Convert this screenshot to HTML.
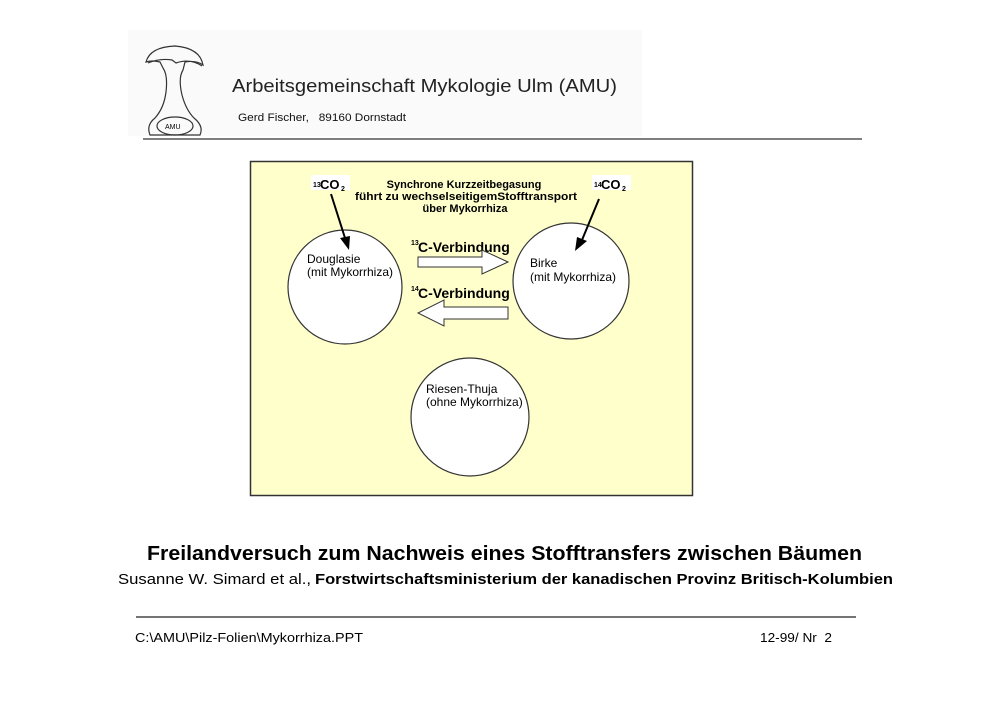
<!DOCTYPE html>
<html><head><meta charset="utf-8"><style>
html,body{margin:0;padding:0;background:#fff}
svg{display:block}
text{font-family:"Liberation Sans",sans-serif}
</style></head><body>
<svg width="1000" height="707" viewBox="0 0 1000 707" xmlns="http://www.w3.org/2000/svg">
<rect x="128" y="30" width="514" height="106" fill="#fafafa"/>
<!-- mushroom logo -->
<g fill="none" stroke="#333" stroke-width="1.2">
<path d="M146,62 Q150,47 175,46 Q200,48 203,65 Q196,60 185,62 L183,70 Q178,78 182,95 Q186,110 194,118 Q204,126 200,135 L150,135 Q146,125 155,118 Q164,108 166,92 Q168,75 163,68 L160,62 Q152,60 146,62 Z"/>
<path d="M148,63 Q160,58 172,60 L176,63 Q190,58 202,66"/>
<ellipse cx="175" cy="126" rx="18" ry="9"/>
</g>
<text x="165" y="129" font-size="7" font-family="Liberation Serif">AMU</text>
<text x="232" y="92" font-size="18" fill="#222" textLength="385" lengthAdjust="spacingAndGlyphs" font-weight="normal">Arbeitsgemeinschaft Mykologie Ulm (AMU)</text>
<text x="238" y="121" font-size="11" fill="#111" textLength="168" lengthAdjust="spacingAndGlyphs" xml:space="preserve">Gerd Fischer,   89160 Dornstadt</text>
<line x1="143" y1="139" x2="862" y2="139" stroke="#333" stroke-width="1.2"/>

<!-- diagram -->
<rect x="250.5" y="161.5" width="442" height="334" fill="#ffffcc" stroke="#333" stroke-width="1.5"/>
<circle cx="345" cy="287" r="57" fill="#fff" stroke="#333" stroke-width="1.2"/>
<circle cx="571" cy="281" r="58" fill="#fff" stroke="#333" stroke-width="1.2"/>
<circle cx="470" cy="417" r="59" fill="#fff" stroke="#333" stroke-width="1.2"/>

<rect x="311" y="175" width="39" height="15" fill="#fff"/>
<text x="313" y="187" font-size="7" font-weight="bold">13</text>
<text x="320" y="189" font-size="13" font-weight="bold">CO</text>
<text x="341" y="191" font-size="7" font-weight="bold">2</text>
<rect x="592" y="175" width="39" height="15" fill="#fff"/>
<text x="594" y="187" font-size="7" font-weight="bold">14</text>
<text x="601" y="189" font-size="13" font-weight="bold">CO</text>
<text x="622" y="191" font-size="7" font-weight="bold">2</text>

<text x="464" y="188" font-size="11" font-weight="bold" text-anchor="middle">Synchrone Kurzzeitbegasung</text>
<text x="466" y="200" font-size="11" font-weight="bold" text-anchor="middle" textLength="222" lengthAdjust="spacingAndGlyphs">führt zu wechselseitigemStofftransport</text>
<text x="465" y="212" font-size="11" font-weight="bold" text-anchor="middle">über Mykorrhiza</text>

<line x1="331" y1="194" x2="345" y2="238" stroke="#000" stroke-width="2"/>
<polygon points="349,250 340,238 350,236" fill="#000"/>
<line x1="599" y1="199" x2="582" y2="240" stroke="#000" stroke-width="2"/>
<polygon points="575,251 577,237 587,241" fill="#000"/>

<text x="411" y="245" font-size="7" font-weight="bold">13</text>
<text x="418" y="252" font-size="14" font-weight="bold">C-Verbindung</text>
<polygon points="418,257 482,257 482,250 508,262 482,274 482,267 418,267" fill="#fff" stroke="#333" stroke-width="1"/>
<text x="411" y="291" font-size="7" font-weight="bold">14</text>
<text x="418" y="298" font-size="14" font-weight="bold">C-Verbindung</text>
<polygon points="508,307 444,307 444,300 418,313 444,326 444,319 508,319" fill="#fff" stroke="#333" stroke-width="1"/>

<text x="307" y="263" font-size="12">Douglasie</text>
<text x="307" y="276" font-size="12">(mit Mykorrhiza)</text>
<text x="530" y="267" font-size="12">Birke</text>
<text x="530" y="281" font-size="12">(mit Mykorrhiza)</text>
<text x="426" y="393" font-size="12">Riesen-Thuja</text>
<text x="426" y="406" font-size="12">(ohne Mykorrhiza)</text>

<text x="147" y="560" font-size="20" font-weight="bold" textLength="715" lengthAdjust="spacingAndGlyphs">Freilandversuch zum Nachweis eines Stofftransfers zwischen Bäumen</text>
<text x="118" y="584" font-size="15" textLength="193" lengthAdjust="spacingAndGlyphs">Susanne W. Simard et al.,</text>
<text x="315" y="584" font-size="15" font-weight="bold" textLength="578" lengthAdjust="spacingAndGlyphs">Forstwirtschaftsministerium der kanadischen Provinz Britisch-Kolumbien</text>
<line x1="136" y1="617" x2="856" y2="617" stroke="#222" stroke-width="1.2"/>
<text x="135" y="642" font-size="13" textLength="228" lengthAdjust="spacingAndGlyphs">C:\AMU\Pilz-Folien\Mykorrhiza.PPT</text>
<text x="760" y="642" font-size="13" textLength="72" lengthAdjust="spacingAndGlyphs" xml:space="preserve">12-99/ Nr  2</text>
</svg>
</body></html>
